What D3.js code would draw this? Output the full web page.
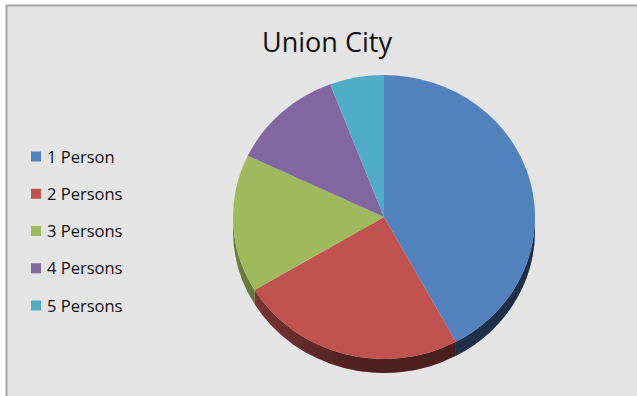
<!DOCTYPE html>
<html>
<head>
<meta charset="utf-8">
<script src="https://cdn.jsdelivr.net/npm/d3@7/dist/d3.min.js"></script>
<style>
  html, body { margin: 0; padding: 0; background: #ffffff; }
  svg { display: block; }
</style>
</head>
<body>
<svg id="chart" width="637" height="396"></svg>
<script>
// Household size shares, Union City
const title = "Union City";
const categories = ["1 Person", "2 Persons", "3 Persons", "4 Persons", "5 Persons"];
const shares = [42.1, 24.3, 15.7, 12.1, 5.8];
const colors = ["#5282be", "#c0534f", "#9fba5c", "#8166a1", "#4fadc7"];

const W = 637, H = 396;
const svg = d3.select("#chart");

// Chart area frame
svg.append("rect")
  .attr("x", 6.5).attr("y", 5.5)
  .attr("width", W + 10).attr("height", H + 10)
  .attr("fill", "#e4e4e4")
  .attr("stroke", "#a3a3a3").attr("stroke-width", 2);

// Title
svg.append("text")
  .attr("x", 327).attr("y", 52)
  .attr("text-anchor", "middle")
  .attr("font-family", "'Open Sans', 'Noto Sans', sans-serif")
  .attr("font-size", 27)
  .attr("fill", "#111")
  .text(title);

// Tilted pie geometry
const cx = 384, cy = 217;
const r = 151;             // horizontal radius
const k = 142 / 151;       // vertical squash of the tilted disc
const depth = 14;          // thickness in screen pixels
const D = depth / k;       // thickness in unsquashed coordinates

const pie = d3.pie().sort(null).value(d => d.value);
const arcs = pie(categories.map((c, i) => ({ name: c, value: shares[i], color: colors[i] })));

const g = svg.append("g").attr("transform", `translate(${cx},${cy}) scale(1,${k})`);

const defs = svg.append("defs");
const shade = defs.append("linearGradient")
  .attr("id", "sideShade")
  .attr("gradientUnits", "userSpaceOnUse")
  .attr("x1", -r).attr("y1", 0).attr("x2", r).attr("y2", 0);
shade.append("stop").attr("offset", "0%").attr("stop-color", "#000").attr("stop-opacity", 0.32);
shade.append("stop").attr("offset", "40%").attr("stop-color", "#000").attr("stop-opacity", 0.6);
shade.append("stop").attr("offset", "100%").attr("stop-color", "#000").attr("stop-opacity", 0.64);

// Side wall: visible only on the front half (pie angles between π/2 and 3π/2)
function sidePath(a0, a1) {
  const s = Math.max(a0, Math.PI / 2), e = Math.min(a1, 3 * Math.PI / 2);
  if (e <= s) return null;
  const p = d3.path();
  const sa = s - Math.PI / 2, ea = e - Math.PI / 2;
  p.moveTo(r * Math.cos(sa), r * Math.sin(sa));
  p.arc(0, 0, r, sa, ea, false);
  p.lineTo(r * Math.cos(ea), r * Math.sin(ea) + D);
  p.arc(0, D, r, ea, sa, true);
  p.closePath();
  return p.toString();
}

const sides = g.append("g");
arcs.forEach(a => {
  const d = sidePath(a.startAngle, a.endAngle);
  if (!d) return;
  sides.append("path").attr("d", d).attr("fill", a.data.color);
  sides.append("path").attr("d", d).attr("fill", "url(#sideShade)");
});

// Top face
const arc = d3.arc().innerRadius(0).outerRadius(r);
g.append("g").selectAll("path")
  .data(arcs)
  .join("path")
  .attr("d", arc)
  .attr("fill", d => d.data.color);

// Legend
const legend = svg.append("g");
const ly = d3.scalePoint().domain(categories).range([156.5, 305.5]);
categories.forEach((c, i) => {
  legend.append("rect")
    .attr("x", 31).attr("y", ly(c) - 5)
    .attr("width", 10).attr("height", 10)
    .attr("fill", colors[i]);
  legend.append("text")
    .attr("x", 47).attr("y", ly(c) + 6)
    .attr("font-family", "'Open Sans', 'Noto Sans', sans-serif")
    .attr("font-size", 16.5)
    .attr("fill", "#111")
    .text(c);
});
</script>
</body>
</html>
